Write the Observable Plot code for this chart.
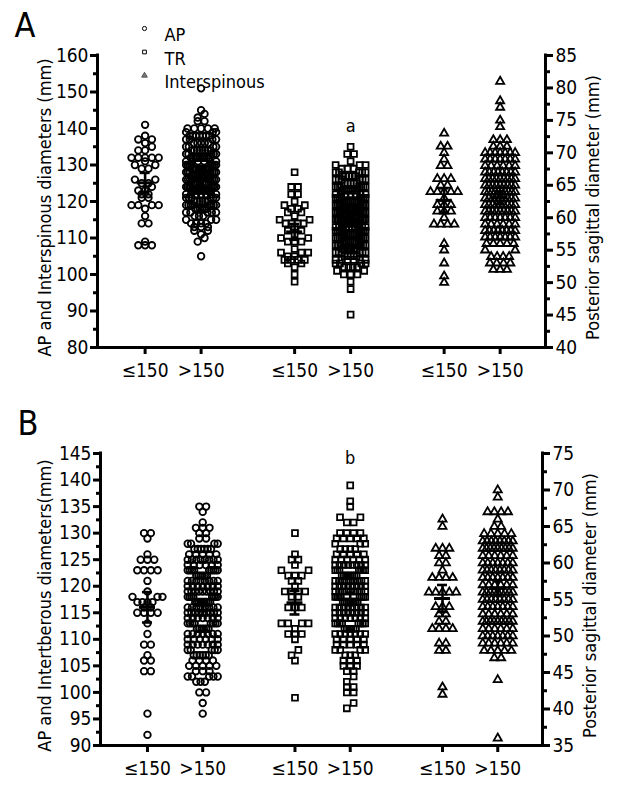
<!DOCTYPE html>
<html><head><meta charset="utf-8">
<script src="https://cdn.jsdelivr.net/npm/d3@7"></script>
<script src="https://cdn.jsdelivr.net/npm/@observablehq/plot@0.6"></script>
<style>
body{margin:0;background:#fff;}
#chart{width:640px;}
#chart svg{display:block;}
</style></head><body><div id="chart"></div>
<script>
const FONT = '"Liberation Sans Narrow","DejaVu Sans Condensed","Roboto Condensed",sans-serif';
const groupLabels = ["≤150", ">150"];

// ---------- Panel A data: [value, count] ----------
const aApLow = [[141,1],[138,1],[137,2],[136,1],[135,1],[134,2],[132,5],[131,1],[130,2],[129,2],[126,2],[125,2],[124,1],[123,2],[122,2],[121,2],[119,4],[118,1],[116,1],[114,2],[109,1],[108,3]];
const aApHigh = [[151,1],[145,1],[144,1],[143,1],[142,2],[140,5],[139,3],[138,7],[137,4],[136,5],[135,4],[134,8],[133,5],[132,9],[131,6],[130,8],[129,10],[128,7],[127,10],[126,9],[125,7],[124,8],[123,12],[122,7],[121,6],[120,6],[119,8],[118,6],[117,5],[116,3],[115,3],[114,4],[113,3],[112,2],[111,1],[110,1],[109,1],[105,1]];
const aTrLow = [[128,1],[124,2],[122,2],[120,1],[119,2],[118,2],[117,2],[116,1],[115,2],[114,4],[113,1],[112,2],[111,1],[110,2],[109,3],[107,1],[106,3],[105,2],[104,4],[103,2],[102,1],[100,1],[98,1]];
const aTrHigh = [[135,1],[133,2],[131,1],[130,3],[129,3],[128,5],[127,5],[126,6],[125,5],[124,7],[123,8],[122,7],[121,8],[120,9],[119,8],[118,10],[117,9],[116,9],[115,10],[114,10],[113,10],[112,9],[111,8],[110,9],[109,8],[108,7],[107,7],[106,6],[105,5],[104,6],[103,4],[102,4],[101,2],[100,3],[98,1],[96,1],[89,1]];
const aIntLow = [[73,1],[71,2],[70,1],[69,1],[68,2],[66,3],[65,2],[64,5],[63,1],[62,3],[61,3],[60,1],[59,4],[56,1],[55,1],[53,1],[51,1],[50,1]];
const aIntHigh = [[81,1],[78,1],[77,1],[75,1],[74,1],[72,3],[71,3],[70,7],[69,7],[68,6],[67,8],[66,9],[65,9],[64,10],[63,9],[62,9],[61,9],[60,7],[59,6],[58,8],[57,7],[56,5],[55,2],[54,4],[53,4],[52,3]];

// ---------- Panel B data: [value, count] ----------
const bApLow = [[130,2],[129,1],[126,1],[125,3],[123,4],[121,1],[119,1],[118,3],[117,4],[116,2],[115,4],[113,1],[111,1],[109,2],[107,1],[106,2],[104,2],[96,1],[92,1]];
const bApHigh = [[135,2],[134,1],[132,1],[131,3],[130,2],[129,2],[128,4],[127,6],[126,5],[125,8],[124,6],[123,9],[122,6],[121,8],[120,7],[119,9],[118,8],[117,9],[116,8],[115,9],[114,7],[113,8],[112,6],[111,7],[110,6],[109,7],[108,5],[107,6],[106,4],[105,5],[104,3],[103,5],[102,3],[100,2],[98,1],[96,1]];
const bTrLow = [[130,1],[126,1],[125,2],[124,1],[123,2],[122,3],[121,2],[120,1],[119,4],[118,2],[116,3],[113,4],[112,1],[111,3],[110,1],[108,1],[107,1],[106,1],[99,1]];
const bTrHigh = [[139,1],[136,1],[135,1],[133,2],[132,2],[130,4],[129,5],[128,3],[127,4],[126,5],[125,6],[124,8],[123,7],[122,8],[121,9],[120,8],[119,9],[118,8],[117,9],[116,8],[115,8],[114,7],[113,8],[112,6],[111,7],[110,5],[109,5],[108,4],[107,3],[106,3],[105,3],[104,2],[103,1],[102,1],[101,2],[100,2],[98,1],[97,1]];
const bIntLow = [[66,1],[65,1],[62,3],[61,2],[60,2],[59,1],[58,4],[56,5],[54,3],[53,2],[52,2],[51,4],[49,2],[48,2],[43,1],[42,1]];
const bIntHigh = [[70,1],[69,1],[67,4],[66,1],[65,2],[64,5],[63,8],[62,9],[61,6],[60,7],[59,8],[58,7],[57,6],[56,9],[55,8],[54,7],[53,6],[52,9],[51,6],[50,7],[49,6],[48,5],[47,2],[44,1],[36,1]];

// ---------- layout helpers ----------
const W = 640, H = 400;
const centerOf = (pair, sub) => 0.85 + pair * 2.67 + sub * 1.0;

function swarm(pairs, toY, pxY, center, pxX) {
  const vals = pairs.flatMap(([v, c]) => Array(c).fill(toY(v)));
  const binPx = 6.6, step = 6.8, maxSpan = 30;
  const bins = d3.group(vals, v => Math.floor(v * pxY / binPx));
  const out = [];
  for (const [, arr] of bins) {
    arr.sort((a, b) => a - b);
    const n = arr.length;
    const s = n > 1 ? Math.min(step, maxSpan / (n - 1)) : 0;
    const slots = d3.range(n).map(i => (i - (n - 1) / 2) * s);
    slots.sort((a, b) => Math.abs(a) - Math.abs(b) || a - b);
    arr.forEach((v, i) => out.push({x: center + slots[i] / pxX, y: v}));
  }
  return {points: out, vals};
}

function panel(cfg) {
  const {yDomain, rDomain, m, groups, leftTicks, leftMinor, rightTicks, rightMinor, letter, leftTitle, rightTitle, star, legend} = cfg;
  const toLeft = r => yDomain[0] + (r - rDomain[0]) * (yDomain[1] - yDomain[0]) / (rDomain[1] - rDomain[0]);
  const fromLeft = y => rDomain[0] + (y - yDomain[0]) * (rDomain[1] - rDomain[0]) / (yDomain[1] - yDomain[0]);
  const pxX = (W - m.left - m.right) / 8;
  const pxY = (H - m.top - m.bottom) / (yDomain[1] - yDomain[0]);
  const marks = [];
  const stats = [];
  const centers = [];
  groups.forEach(g => {
    const cx = centerOf(g.pair, g.sub);
    centers.push(cx);
    const conv = g.right ? toLeft : (v => v);
    const {points, vals} = swarm(g.data, conv, pxY, cx, pxX);
    marks.push(Plot.dot(points, {x: "x", y: "y", symbol: g.symbol, r: g.symbol === "triangle" ? 3.0 : 3.3,
      fill: "none", stroke: "black", strokeWidth: 1.8}));
    const mean = d3.mean(vals), ci = 1.96 * d3.deviation(vals) / Math.sqrt(vals.length);
    stats.push({x: cx, mean, lo: mean - ci, hi: mean + ci, max: d3.max(vals)});
  });
  marks.push(
    Plot.ruleX(stats, {x: "x", y1: "lo", y2: "hi", strokeWidth: 2.6}),
    Plot.ruleY(stats, {y: "mean", x1: d => d.x - 8 / pxX, x2: d => d.x + 8 / pxX, strokeWidth: 3}),
    Plot.ruleY(stats, {y: "lo", x1: d => d.x - 5 / pxX, x2: d => d.x + 5 / pxX, strokeWidth: 2.6}),
    Plot.ruleY(stats, {y: "hi", x1: d => d.x - 5 / pxX, x2: d => d.x + 5 / pxX, strokeWidth: 2.6}),
    // axis lines
    Plot.ruleX([0, 8], {y1: yDomain[0], y2: yDomain[1], strokeWidth: 3, strokeLinecap: "square"}),
    Plot.ruleY([yDomain[0]], {x1: 0, x2: 8, strokeWidth: 3, strokeLinecap: "square"}),
    // left axis
    Plot.axisY(leftTicks, {anchor: "left", tickSize: 7, tickPadding: 2, strokeWidth: 3, fontSize: 19, label: null, tickFormat: d3.format("d")}),
    Plot.axisY(leftMinor, {anchor: "left", tickSize: 4, strokeWidth: 3, label: null, tickFormat: () => ""}),
    // right axis
    Plot.axisY(rightTicks.map(toLeft), {anchor: "right", tickSize: 7, tickPadding: 3, strokeWidth: 3, fontSize: 19, label: null,
      tickFormat: d => d3.format("d")(Math.round(fromLeft(d)))}),
    Plot.axisY(rightMinor.map(toLeft), {anchor: "right", tickSize: 4, strokeWidth: 3, label: null, tickFormat: () => ""}),
    // x axis
    Plot.axisX(centers, {tickSize: 7, tickPadding: 9, strokeWidth: 3, fontSize: 19, label: null,
      tickFormat: d => groupLabels[centers.indexOf(d) % 2]}),
    // titles
    Plot.text([letter], {frameAnchor: "top-left", dx: -83, dy: -43, fontSize: 34, textAnchor: "start"}),
    Plot.text([leftTitle], {frameAnchor: "left", rotate: -90, textAnchor: "middle", dx: -m.left + 45, dy: 6, fontSize: 18}),
    Plot.text([rightTitle], {frameAnchor: "right", rotate: -90, textAnchor: "middle", dx: 48, dy: 6, fontSize: 18}),
    Plot.text([stats[star.group]], {x: "x", y: "max", text: () => star.text, dy: star.dy, fontSize: 18})
  );
  if (legend) {
    legend.forEach((it, i) => {
      const dy = -27 + i * 23.5;
      marks.push(Plot.dot([0], {frameAnchor: "top-left", dx: 47, dy, symbol: it.symbol, r: 2.1,
        fill: it.symbol === "triangle" ? "#777" : "none", stroke: it.symbol === "triangle" ? "#555" : "black", strokeWidth: 1}));
      marks.push(Plot.text([it.label], {frameAnchor: "top-left", dx: 67, dy, fontSize: 18, textAnchor: "start"}));
    });
  }
  return Plot.plot({
    width: W, height: H,
    marginTop: m.top, marginBottom: m.bottom, marginLeft: m.left, marginRight: m.right,
    style: {fontFamily: FONT, color: "black", background: "white", overflow: "visible"},
    x: {domain: [0, 8]},
    y: {domain: yDomain},
    marks
  });
}

const plotA = panel({
  yDomain: [80, 160], rDomain: [40, 85],
  m: {top: 55, bottom: 53, left: 97, right: 95},
  groups: [
    {data: aApLow, pair: 0, sub: 0, symbol: "circle"},
    {data: aApHigh, pair: 0, sub: 1, symbol: "circle"},
    {data: aTrLow, pair: 1, sub: 0, symbol: "square"},
    {data: aTrHigh, pair: 1, sub: 1, symbol: "square"},
    {data: aIntLow, pair: 2, sub: 0, symbol: "triangle", right: true},
    {data: aIntHigh, pair: 2, sub: 1, symbol: "triangle", right: true}
  ],
  leftTicks: d3.range(80, 161, 10), leftMinor: d3.range(85, 160, 10),
  rightTicks: d3.range(40, 86, 5), rightMinor: d3.range(42.5, 85, 5),
  letter: "A",
  leftTitle: "AP and Interspinous diameters (mm)",
  rightTitle: "Posterior sagittal diameter (mm)",
  star: {group: 3, text: "a", dy: -21},
  legend: [{symbol: "circle", label: "AP"}, {symbol: "square", label: "TR"}, {symbol: "triangle", label: "Interspinous"}]
});

const plotB = panel({
  yDomain: [90, 145], rDomain: [35, 75],
  m: {top: 53, bottom: 55, left: 100, right: 98},
  groups: [
    {data: bApLow, pair: 0, sub: 0, symbol: "circle"},
    {data: bApHigh, pair: 0, sub: 1, symbol: "circle"},
    {data: bTrLow, pair: 1, sub: 0, symbol: "square"},
    {data: bTrHigh, pair: 1, sub: 1, symbol: "square"},
    {data: bIntLow, pair: 2, sub: 0, symbol: "triangle", right: true},
    {data: bIntHigh, pair: 2, sub: 1, symbol: "triangle", right: true}
  ],
  leftTicks: d3.range(90, 146, 5), leftMinor: d3.range(92.5, 145, 5),
  rightTicks: d3.range(35, 76, 5), rightMinor: d3.range(37.5, 75, 5),
  letter: "B",
  leftTitle: "AP and Intertberous diameters(mm)",
  rightTitle: "Posterior sagittal diameter (mm)",
  star: {group: 3, text: "b", dy: -27},
  legend: null
});

document.getElementById("chart").append(plotA, plotB);
</script>
</body></html>
